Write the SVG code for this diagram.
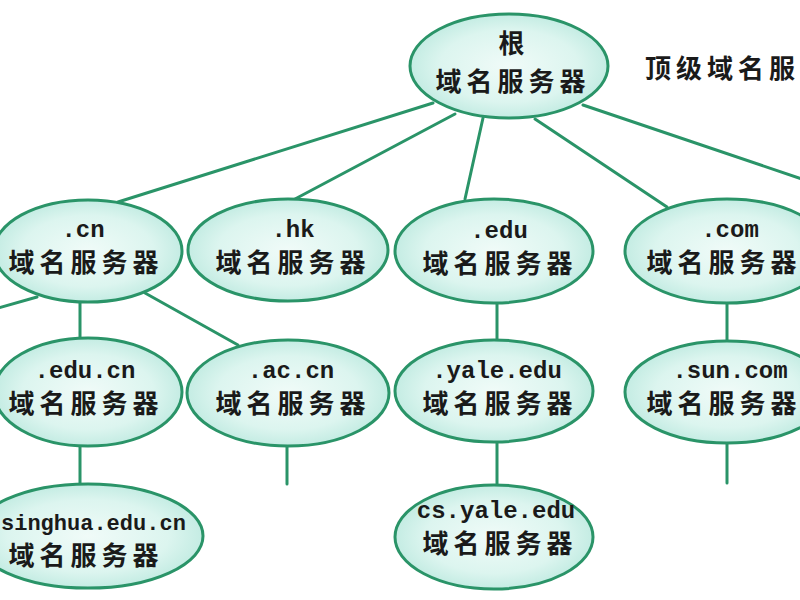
<svg xmlns="http://www.w3.org/2000/svg" width="800" height="600" viewBox="0 0 800 600">
<defs>
<radialGradient id="g" cx="50%" cy="50%" r="50%">
<stop offset="0" stop-color="#f0fbf8"/>
<stop offset="0.7" stop-color="#dcf5ef"/>
<stop offset="1" stop-color="#c4ece3"/>
</radialGradient>
<style>
.n{fill:url(#g);stroke:#2a9468;stroke-width:3}
.c line{stroke:#2a9468;stroke-width:3;stroke-linecap:round}
.en{font-family:"Liberation Mono","DejaVu Sans Mono",monospace;font-weight:bold;font-size:24px;fill:#1a1a1a;text-anchor:middle}
.zh{font-family:"Noto Sans CJK SC","Noto Sans",sans-serif;font-weight:bold;font-size:26px;letter-spacing:5px;fill:#1a1a1a;text-anchor:middle}
</style>
</defs>
<rect width="800" height="600" fill="#ffffff"/>
<g id="connectors" class="c">
<line x1="433" y1="103" x2="118" y2="202"/>
<line x1="455" y1="114" x2="295" y2="199"/>
<line x1="483" y1="118" x2="465" y2="199"/>
<line x1="535" y1="119" x2="667" y2="207"/>
<line x1="583" y1="105" x2="802" y2="179"/>
<line x1="37" y1="297" x2="-2" y2="308"/>
<line x1="80" y1="302" x2="80" y2="338"/>
<line x1="145" y1="293" x2="238" y2="345"/>
<line x1="497" y1="304" x2="497" y2="340"/>
<line x1="727" y1="304" x2="727" y2="340"/>
<line x1="80" y1="446" x2="80" y2="484"/>
<line x1="287" y1="446" x2="287" y2="484"/>
<line x1="497" y1="442" x2="497" y2="486"/>
<line x1="727" y1="442" x2="727" y2="483"/>
</g>
<g id="root">
<ellipse class="n" cx="509" cy="66" rx="99" ry="52"/>
<text class="zh" x="514" y="53">根</text>
<text class="zh" x="513" y="91">域名服务器</text>
</g>
<text x="645" y="78" font-family="'Noto Sans CJK SC','Noto Sans',sans-serif" font-weight="bold" font-size="26" letter-spacing="5" fill="#1a1a1a">顶级域名服</text>
<g id="cn">
<ellipse class="n" cx="88" cy="251" rx="94" ry="51"/>
<text class="en" x="83" y="237">.cn</text>
<text class="zh" x="86" y="272">域名服务器</text>
</g>
<g id="hk">
<ellipse class="n" cx="288" cy="250" rx="100" ry="51"/>
<text class="en" x="293" y="237">.hk</text>
<text class="zh" x="293" y="272">域名服务器</text>
</g>
<g id="edu">
<ellipse class="n" cx="494" cy="251" rx="99" ry="52"/>
<text class="en" x="499" y="238">.edu</text>
<text class="zh" x="500" y="273">域名服务器</text>
</g>
<g id="com">
<ellipse class="n" cx="727" cy="251" rx="102" ry="52"/>
<text class="en" x="730" y="237">.com</text>
<text class="zh" x="724" y="272">域名服务器</text>
</g>
<g id="educn">
<ellipse class="n" cx="88" cy="392" rx="94" ry="54"/>
<text class="en" x="85" y="378">.edu.cn</text>
<text class="zh" x="86" y="413">域名服务器</text>
</g>
<g id="accn">
<ellipse class="n" cx="288" cy="393" rx="101" ry="53"/>
<text class="en" x="291" y="378">.ac.cn</text>
<text class="zh" x="293" y="413">域名服务器</text>
</g>
<g id="yaleedu">
<ellipse class="n" cx="494" cy="391" rx="99" ry="51"/>
<text class="en" x="497" y="378">.yale.edu</text>
<text class="zh" x="500" y="413">域名服务器</text>
</g>
<g id="suncom">
<ellipse class="n" cx="727" cy="392" rx="102" ry="51"/>
<text class="en" x="730" y="378">.sun.com</text>
<text class="zh" x="724" y="413">域名服务器</text>
</g>
<g id="tsinghua">
<ellipse class="n" cx="88" cy="536" rx="115" ry="52"/>
<text class="en" x="1" y="530" style="text-anchor:start;font-size:22px">singhua.edu.cn</text>
<text class="zh" x="86" y="565">域名服务器</text>
</g>
<g id="csyale">
<ellipse class="n" cx="494" cy="537" rx="99" ry="52"/>
<text class="en" x="496" y="518">cs.yale.edu</text>
<text class="zh" x="500" y="553">域名服务器</text>
</g>
</svg>
